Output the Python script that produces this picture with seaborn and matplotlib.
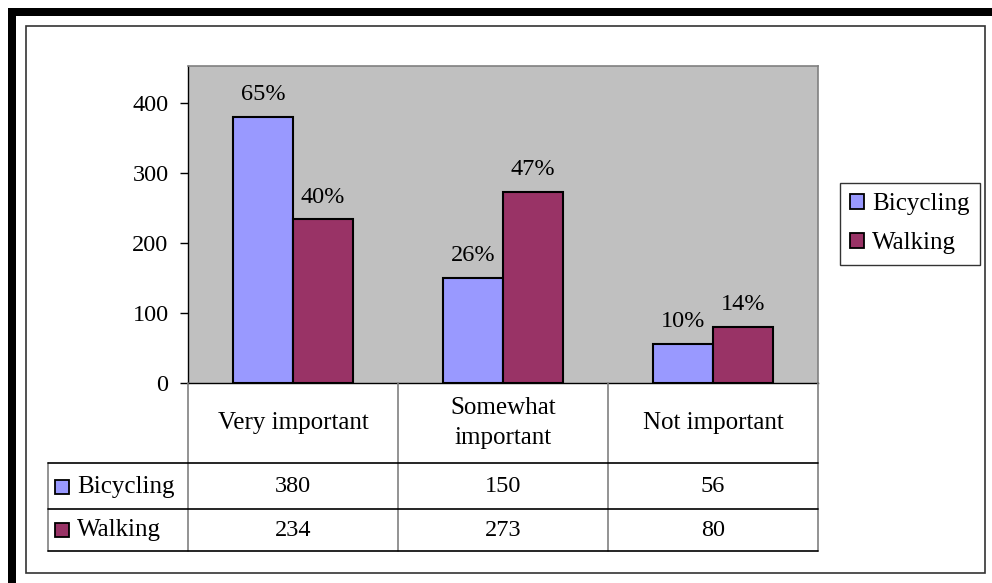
import matplotlib
matplotlib.use("Agg")
import matplotlib.pyplot as plt
from matplotlib.patches import Rectangle, Patch
from matplotlib.lines import Line2D
import seaborn as sns
import pandas as pd

# Survey counts by importance rating
categories = ["Very important", "Somewhat important", "Not important"]
category_labels = ["Very important", "Somewhat\nimportant", "Not important"]
series = ["Bicycling", "Walking"]
bicycling = [380, 150, 56]
walking = [234, 273, 80]
colors = {"Bicycling": "#9999FF", "Walking": "#993366"}
yticks = [0, 100, 200, 300, 400]

values = {"Bicycling": bicycling, "Walking": walking}
df = pd.DataFrame(
    [(c, s, v) for s in series for c, v in zip(categories, values[s])],
    columns=["importance", "mode", "respondents"],
)

sns.set_theme(style="white")
plt.rcParams["font.family"] = ["Liberation Serif", "DejaVu Serif"]
plt.rcParams["text.color"] = "black"
plt.rcParams["xtick.color"] = "black"
plt.rcParams["ytick.color"] = "black"
plt.rcParams["axes.labelcolor"] = "black"
FS_TXT = 18
FS_NUM = 17.5

W, H = 992, 583
fig = plt.figure(figsize=(W / 100, H / 100), dpi=100)
fig.patch.set_facecolor("white")


def fx(px):
    return px / W


def fy(py):
    return 1 - py / H


# Heavy frame on top and left, thin inner frame
fig.add_artist(Rectangle((fx(8), fy(16)), fx(992) - fx(8), fy(8) - fy(16),
                         transform=fig.transFigure, color="black", lw=0))
fig.add_artist(Rectangle((fx(8), fy(583)), fx(16) - fx(8), fy(8) - fy(583),
                         transform=fig.transFigure, color="black", lw=0))
fig.add_artist(Rectangle((fx(25.5), fy(573)), fx(985) - fx(25.5), fy(25.5) - fy(573),
                         transform=fig.transFigure, fill=False,
                         edgecolor="#333333", lw=1.2))

# Plot area
x0, x1, y0, y1 = 188, 818, 66, 383
ax = fig.add_axes([fx(x0), fy(y1), fx(x1) - fx(x0), fy(y0) - fy(y1)])
ax.set_facecolor("#C0C0C0")

sns.barplot(data=df, x="importance", y="respondents", hue="mode",
            order=categories, hue_order=series, palette=colors,
            saturation=1, edgecolor="black", linewidth=1.5,
            width=0.572, legend=False, ax=ax)

ax.set_xlim(-0.5, 2.5)
ax.set_ylim(0, 453)
ax.set_yticks(yticks)
ax.set_yticklabels([str(t) for t in yticks], fontsize=FS_NUM, color="black")
ax.set_xticks([])
ax.set_xlabel("")
ax.set_ylabel("")
ax.tick_params(axis="y", direction="out", length=6, width=1, color="black",
               pad=8, left=True)
for side in ("left", "bottom"):
    ax.spines[side].set_color("black")
    ax.spines[side].set_linewidth(1)
for side in ("top", "right"):
    ax.spines[side].set_color("#808080")
    ax.spines[side].set_linewidth(1.2)

# Share of each series total above its bar
for s, container in zip(series, ax.containers):
    total = sum(values[s])
    for bar, v in zip(container, values[s]):
        pct = round(100 * v / total)
        ax.annotate(f"{pct}%", (bar.get_x() + bar.get_width() / 2, bar.get_height()),
                    xytext=(0, 12), textcoords="offset points",
                    ha="center", va="baseline", fontsize=FS_NUM, color="black")

# Data table below the axis
col_edges = [188, 398, 608, 818]
col_centers = [(a + b) / 2 for a, b in zip(col_edges[:-1], col_edges[1:])]
row_lines = [463, 509, 551]
row_centers = [487, 530]
left_edge = 48

for xe in col_edges:
    fig.add_artist(Line2D([fx(xe), fx(xe)], [fy(383), fy(551)],
                          transform=fig.transFigure, color="#808080", lw=1.2))
fig.add_artist(Line2D([fx(left_edge), fx(left_edge)], [fy(463), fy(551)],
                      transform=fig.transFigure, color="#808080", lw=1.2))
for yl in row_lines:
    fig.add_artist(Line2D([fx(left_edge), fx(818)], [fy(yl), fy(yl)],
                          transform=fig.transFigure, color="black", lw=1.2))

for xc, lab in zip(col_centers, category_labels):
    fig.text(fx(xc), fy(423), lab, ha="center", va="center", fontsize=FS_TXT,
             linespacing=1.45, color="black")

for s, yc in zip(series, row_centers):
    fig.add_artist(Rectangle((fx(55), fy(yc + 7)), fx(14), 14 / H,
                             transform=fig.transFigure, facecolor=colors[s],
                             edgecolor="black", lw=1.3))
    fig.text(fx(77), fy(yc), s, ha="left", va="center", fontsize=FS_TXT,
             color="black")
    for xc, v in zip(col_centers, values[s]):
        fig.text(fx(xc), fy(yc), str(v), ha="center", va="center",
                 fontsize=FS_NUM, color="black")

# Legend
handles = [Patch(facecolor=colors[s], edgecolor="black", lw=1.3) for s in series]
leg = fig.legend(handles, series, loc="upper left",
                 bbox_to_anchor=(fx(840), fy(183)), bbox_transform=fig.transFigure,
                 fontsize=FS_TXT, frameon=True, fancybox=False, borderaxespad=0,
                 handlelength=0.56, handleheight=0.56, handletextpad=0.32,
                 labelspacing=0.7, borderpad=0.4, labelcolor="black")
leg.get_frame().set_edgecolor("black")
leg.get_frame().set_linewidth(1)
leg.get_frame().set_facecolor("white")

fig.savefig("out.png", dpi=100, facecolor="white")
